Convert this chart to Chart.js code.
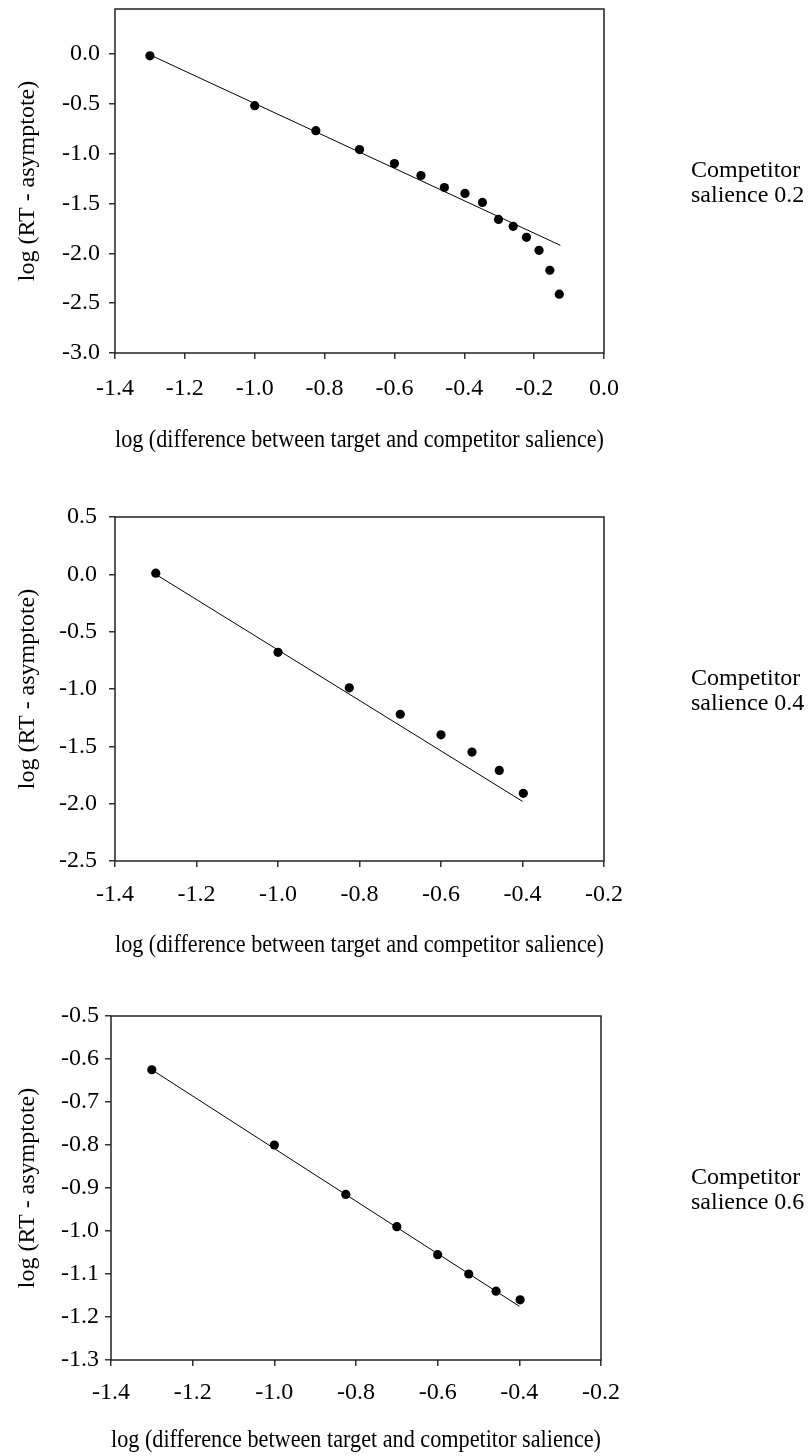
<!DOCTYPE html>
<html>
<head>
<meta charset="utf-8">
<title>log (RT - asymptote) by competitor salience</title>
<script src="https://cdn.jsdelivr.net/npm/chart.js@4"></script>
<style>
  html, body { margin: 0; padding: 0; background: #fff; }
  #page { position: relative; width: 812px; height: 1456px; overflow: hidden; background: #fff; }
  canvas { position: absolute; left: 0; }
  .side {
    position: absolute; left: 691px; width: 121px;
    font-family: "Liberation Serif", "Times New Roman", serif;
    font-size: 24px; line-height: 25px; color: #000; white-space: nowrap;
  }
</style>
</head>
<body>
<div id="page">
  <canvas id="c1" width="812" height="460" style="top:0px"></canvas>
  <canvas id="c2" width="812" height="490" style="top:470px"></canvas>
  <canvas id="c3" width="812" height="476" style="top:980px"></canvas>
  <div class="side" style="top:157px">Competitor<br>salience 0.2</div>
  <div class="side" style="top:665px">Competitor<br>salience 0.4</div>
  <div class="side" style="top:1164px">Competitor<br>salience 0.6</div>
</div>
<script>
// log (target salience - competitor salience)
const xSal02 = [-1.30, -1.00, -0.825, -0.70, -0.60, -0.524, -0.457, -0.398, -0.348, -0.302, -0.260, -0.222, -0.186, -0.155, -0.128];
const xSal04 = [-1.30, -1.00, -0.825, -0.70, -0.60, -0.524, -0.457, -0.398];
const xSal06 = [-1.30, -1.00, -0.825, -0.70, -0.60, -0.524, -0.457, -0.398];

// log (RT - asymptote)
const ySal02 = [-0.02, -0.52, -0.77, -0.96, -1.10, -1.22, -1.34, -1.40, -1.49, -1.66, -1.73, -1.84, -1.97, -2.17, -2.41];
const ySal04 = [0.01, -0.68, -0.99, -1.22, -1.40, -1.55, -1.71, -1.91];
const ySal06 = [-0.625, -0.80, -0.915, -0.99, -1.055, -1.10, -1.14, -1.16];

// fitted regression lines: [x start, x end] and [y start, y end]
const fitX02 = [-1.30, -0.125];
const fitY02 = [-0.01, -1.92];
const fitX04 = [-1.30, -0.40];
const fitY04 = [0.00, -1.98];
const fitX06 = [-1.30, -0.40];
const fitY06 = [-0.625, -1.175];

// axis ticks
const xTicks02 = [-1.4, -1.2, -1.0, -0.8, -0.6, -0.4, -0.2, 0.0];
const xTicks = [-1.4, -1.2, -1.0, -0.8, -0.6, -0.4, -0.2];
const yTicks02 = [-3.0, -2.5, -2.0, -1.5, -1.0, -0.5, 0.0];
const yTicks04 = [-2.5, -2.0, -1.5, -1.0, -0.5, 0.0, 0.5];
const yTicks06 = [-1.3, -1.2, -1.1, -1.0, -0.9, -0.8, -0.7, -0.6, -0.5];

const xTitle = 'log (difference between target and competitor salience)';
const yTitle = 'log (RT - asymptote)';

const SERIF = '"Liberation Serif", "Times New Roman", serif';

function pairs(xs, ys) { return xs.map((x, i) => ({ x: x, y: ys[i] })); }
function fmt(v) { return (Math.abs(v) < 1e-9 ? 0 : v).toFixed(1); }

// box drawn around the plotting area
const frame = {
  id: 'frame',
  beforeDatasetsDraw(chart) {
    const { ctx, chartArea: a } = chart;
    ctx.save();
    ctx.strokeStyle = '#222';
    ctx.lineWidth = 1.5;
    ctx.strokeRect(a.left, a.top, a.right - a.left, a.bottom - a.top);
    ctx.restore();
  }
};

function panel(id, o) {
  new Chart(document.getElementById(id), {
    type: 'scatter',
    data: {
      datasets: [
        { data: pairs(o.xs, o.ys), pointRadius: 4.6, pointHoverRadius: 4.6,
          pointBackgroundColor: '#000', pointBorderColor: '#000', pointBorderWidth: 0, order: 0 },
        { data: pairs(o.fx, o.fy), showLine: true, borderColor: '#000', borderWidth: 1,
          pointRadius: 0, fill: false, order: 1 }
      ]
    },
    options: {
      responsive: false,
      animation: false,
      devicePixelRatio: 1,
      layout: { padding: { left: 0, top: o.padTop, right: o.padRight, bottom: 0 } },
      plugins: { legend: { display: false }, tooltip: { enabled: false } },
      scales: {
        x: {
          type: 'linear', min: o.xMin, max: o.xMax,
          afterBuildTicks: s => { s.ticks = o.xt.map(v => ({ value: v })); },
          afterFit: s => { s.height = o.xHeight; s.paddingLeft = 0; s.paddingRight = 0; },
          grid: { drawOnChartArea: false, drawTicks: true, tickLength: 6, color: '#333', lineWidth: 1.5 },
          border: { display: false },
          ticks: { color: '#000', font: { family: SERIF, size: 24 }, padding: o.xPad,
                   maxRotation: 0, autoSkip: false, callback: v => fmt(v) },
          title: { display: true, text: xTitle, color: '#000',
                   font: { family: SERIF, size: 25 }, padding: { top: 0, bottom: o.xTitleBottom } }
        },
        y: {
          type: 'linear', min: o.yMin, max: o.yMax,
          afterBuildTicks: s => { s.ticks = o.yt.map(v => ({ value: v })); },
          afterFit: s => { s.width = o.yWidth; s.paddingTop = 0; s.paddingBottom = 0; },
          grid: { drawOnChartArea: false, drawTicks: true, tickLength: 6, color: '#333', lineWidth: 1.5 },
          border: { display: false },
          ticks: { color: '#000', font: { family: SERIF, size: 24 }, padding: o.yPad,
                   autoSkip: false, callback: v => fmt(v) },
          title: { display: true, text: yTitle, color: '#000',
                   font: { family: SERIF, size: 24 }, padding: { top: 13, bottom: 0 } }
        }
      }
    },
    plugins: [frame]
  });
}

panel('c1', {
  xs: xSal02, ys: ySal02, fx: fitX02, fy: fitY02,
  xMin: -1.4, xMax: 0.0, yMin: -3.0, yMax: 0.45, xt: xTicks02, yt: yTicks02,
  padTop: 9, padRight: 208, yWidth: 115, xHeight: 107, xPad: 15, yPad: 9, xTitleBottom: 5
});
panel('c2', {
  xs: xSal04, ys: ySal04, fx: fitX04, fy: fitY04,
  xMin: -1.4, xMax: -0.2, yMin: -2.5, yMax: 0.5, xt: xTicks, yt: yTicks04,
  padTop: 47, padRight: 208, yWidth: 115, xHeight: 99, xPad: 13, yPad: 12, xTitleBottom: 0
});
panel('c3', {
  xs: xSal06, ys: ySal06, fx: fitX06, fy: fitY06,
  xMin: -1.4, xMax: -0.2, yMin: -1.3, yMax: -0.5, xt: xTicks, yt: yTicks06,
  padTop: 36, padRight: 211, yWidth: 111, xHeight: 96, xPad: 12, yPad: 6, xTitleBottom: 1
});
</script>
</body>
</html>
